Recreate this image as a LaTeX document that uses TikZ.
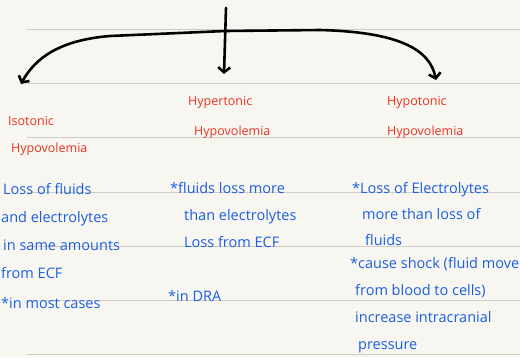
\documentclass[tikz,border=0pt]{standalone}
\usepackage{fontspec}
\setmainfont{Open Sans}
\usetikzlibrary{
    arrows.meta,
    positioning
}
\definecolor{paper}{HTML}{F8F6F1}
\definecolor{ruling}{HTML}{CFCCC7}
\definecolor{titlered}{HTML}{EA3323}
\definecolor{noteblue}{HTML}{1A5FE0}

\begin{document}
\begin{tikzpicture}[
        x=1pt, y=-1pt,
        title/.style={
            anchor=base west,
            align=left,
            inner sep=0pt,
            text=titlered,
            font=\fontsize{12.5}{30}\selectfont
        },
        note/.style={
            anchor=base west,
            align=left,
            inner sep=0pt,
            text=noteblue,
            font=\fontsize{14.5}{27}\selectfont
        },
        link/.style={
            -{Straight Barb[length=5pt,width=12pt,line width=2.6pt]},
            line width=2.6pt,
            line cap=round,
            line join=round
        }
    ]

    \fill[paper] (0,0) rectangle (520,357);
    \useasboundingbox (0,0) rectangle (520,357);

    % notebook rules
    \foreach \y in {29,83,137,192,246,300,354}
        \draw[ruling, line width=0.9pt] (27,\y) -- (520,\y);

    % titles (anchored at the last line)
    \node[title] (iso) at (8,152) {Isotonic\\[-3pt]\hspace*{3pt}Hypovolemia};
    \node[title] (hyper) at (188,135) {Hypertonic\\\hspace*{6pt}Hypovolemia};
    \node[title] (hypo) at (387,135) {Hypotonic\\Hypovolemia};

    % arrow ends
    \coordinate (top) at (226,8);
    \coordinate (hub) at (225,31);
    \coordinate (isoTip) at (21,84);
    \coordinate (hyperTip) at (224,74);
    \coordinate (hypoTip) at (436,80);

    \draw[link] (top) -- (hyperTip);
    \draw[link] (hub) -- (110,36) .. controls (60,40) and (35,58) .. (isoTip);
    \draw[link] (hub) -- (320,30) .. controls (400,32) and (430,50) .. (hypoTip);

    % notes (anchored at the last line)
    \node[note, font=\fontsize{14.5}{28}\selectfont] (isoNotes) at (1,308)
        {\hspace*{2pt}Loss of fluids\\and electrolytes\\\hspace*{2pt}in same amounts\\from ECF\\[2pt]*in most cases};
    \node[note] (hyperNotes) at (170,247)
        {*fluids loss more\\\hspace*{14pt}than electrolytes\\\hspace*{14pt}Loss from ECF};
    \node[note] (hyperDra) at (168,301) {*in DRA};
    \node[note, font=\fontsize{14.5}{26}\selectfont] (hypoNotes) at (352,245)
        {*Loss of Electrolytes\\\hspace*{10pt}more than loss of\\\hspace*{13pt}fluids};
    \node[note] (hypoMore) at (350,349)
        {*cause shock (fluid move\\\hspace*{5pt}from blood to cells)\\\hspace*{5pt}increase intracranial\\\hspace*{8pt}pressure};

\end{tikzpicture}
\end{document}
